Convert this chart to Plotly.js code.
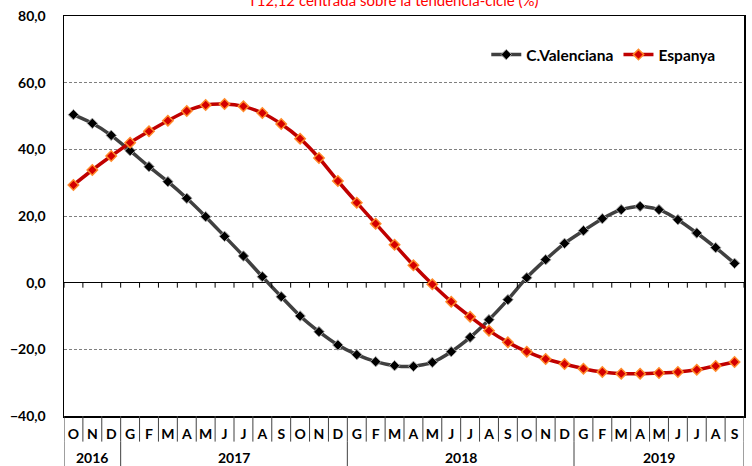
<!DOCTYPE html>
<html>
<head>
<meta charset="utf-8">
<script src="https://cdn.plot.ly/plotly-3.0.1.min.js"></script>
<style>html,body{margin:0;padding:0;background:#fff;}#chart{width:752px;height:466px;}</style>
</head>
<body>
<div id="chart"></div>
<script>
const months = ['O','N','D','G','F','M','A','M','J','J','A','S','O','N','D','G','F','M','A','M','J','J','A','S','O','N','D','G','F','M','A','M','J','J','A','S'];
const years = ['2016','2017','2018','2019'];
const yearCounts = [3, 12, 12, 9];
const cValenciana = [50.4,47.8,44.2,39.6,34.8,30.3,25.3,19.8,13.9,8.0,1.8,-4.2,-10.0,-14.7,-18.7,-21.6,-23.7,-24.9,-25.1,-23.9,-20.7,-16.4,-11.1,-5.1,1.5,6.9,11.8,15.6,19.2,21.9,22.9,21.9,18.9,14.9,10.5,5.8];
const espanya = [29.3,33.8,38.0,42.0,45.4,48.6,51.5,53.3,53.6,52.9,50.9,47.6,43.2,37.4,30.5,24.0,17.7,11.4,5.2,-0.5,-5.7,-10.2,-14.4,-17.9,-20.7,-22.9,-24.4,-25.8,-26.8,-27.3,-27.3,-27.1,-26.8,-26.1,-25.0,-23.8];
const titleText = 'T12,12 centrada sobre la tendència-cicle (%)';

const idx = months.map((m, i) => i);
const n = months.length;
const FONT = 'Lato, "Open Sans", sans-serif';

const traces = [
  {x: idx, y: cValenciana, name: 'C.Valenciana', type: 'scatter', mode: 'lines+markers',
   line: {color: '#404040', width: 3.5, shape: 'spline', smoothing: 0.6},
   marker: {symbol: 'diamond', size: 8, color: '#000000', line: {color: '#a0a0a0', width: 1}}},
  {x: idx, y: espanya, name: 'Espanya', type: 'scatter', mode: 'lines+markers',
   line: {color: '#C00000', width: 3.5, shape: 'spline', smoothing: 0.6},
   marker: {symbol: 'diamond', size: 8, color: '#D40000', line: {color: '#FF8A2A', width: 1.5}}}
];

const shapes = [];
const sepY = -0.064;
// month separators and zero-line ticks
for (let k = 0; k <= n; k++) {
  shapes.push({type: 'line', xref: 'x', yref: 'paper', x0: k - 0.5, x1: k - 0.5, y0: 0, y1: sepY,
    line: {color: '#404040', width: 1}});
  shapes.push({type: 'line', xref: 'x', yref: 'y', x0: k - 0.5, x1: k - 0.5, y0: 0, y1: -1.5,
    line: {color: '#000000', width: 1}});
}
// year separators and year labels
const annotations = [];
let start = 0;
const yb = [-0.5];
years.forEach((yr, i) => {
  const end = start + yearCounts[i];
  yb.push(end - 0.5);
  annotations.push({x: (start + end - 1) / 2, xref: 'x', y: -0.103, yref: 'paper', text: yr,
    showarrow: false, yanchor: 'middle', font: {family: FONT, size: 14, weight: 'bold', color: '#000'}});
  start = end;
});
yb.forEach(b => shapes.push({type: 'line', xref: 'x', yref: 'paper', x0: b, x1: b, y0: sepY, y1: -0.13,
  line: {color: '#404040', width: 1}}));

annotations.push({x: 0.485, xref: 'paper', y: 1.040, yref: 'paper', text: titleText, showarrow: false,
  yanchor: 'middle', xanchor: 'center', font: {family: FONT, size: 15, color: '#FF0000'}});

const layout = {
  width: 752, height: 466,
  margin: {l: 64, r: 8, t: 16, b: 50, pad: 0},
  paper_bgcolor: '#fff', plot_bgcolor: '#fff',
  separators: ',.',
  showlegend: true,
  legend: {orientation: 'h', x: 0.621, xanchor: 'left', y: 0.945, yanchor: 'top',
    font: {family: FONT, size: 15.5, weight: 'bold', color: '#000'}, bgcolor: 'rgba(0,0,0,0)', itemwidth: 30, tracegroupgap: 0},
  xaxis: {range: [-0.5, n - 0.5], tickmode: 'array', tickvals: idx, ticktext: months, ticks: '',
    showgrid: false, zeroline: false, showline: true, mirror: true, linecolor: '#000', linewidth: 1.5,
    tickfont: {family: FONT, size: 14, weight: 'bold', color: '#000'}, ticklabelstandoff: 5},
  yaxis: {range: [-40, 80], dtick: 20, tick0: 0, tickformat: '.1f', ticks: '',
    showgrid: true, gridcolor: '#7f7f7f', gridwidth: 1, griddash: '3px,2px',
    zeroline: true, zerolinecolor: '#000', zerolinewidth: 1.5,
    showline: true, mirror: true, linecolor: '#000', linewidth: 1.5,
    tickfont: {family: FONT, size: 14, weight: 'bold', color: '#000'}, ticklabelstandoff: 14},
  shapes: shapes,
  annotations: annotations
};

Plotly.newPlot('chart', traces, layout, {displayModeBar: false, staticPlot: true});
</script>
</body>
</html>
